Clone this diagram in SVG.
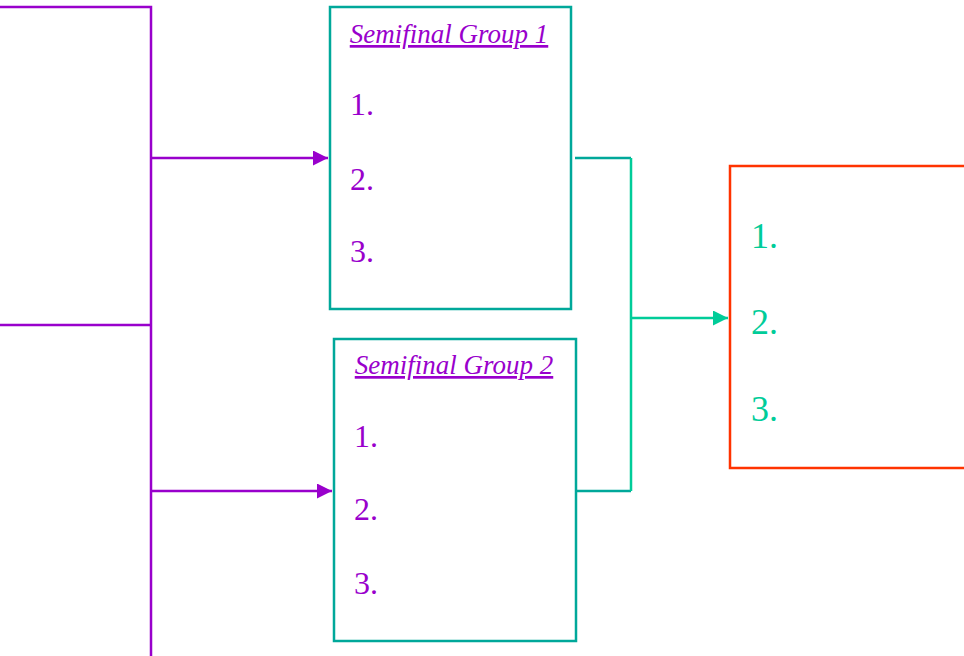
<svg xmlns="http://www.w3.org/2000/svg" width="964" height="656" viewBox="0 0 964 656">
<defs>
<style>
.pl{fill:none;stroke:#9900CC;stroke-width:2.5}
.gl{fill:none;stroke:#00CC99;stroke-width:2.5}
.tl{fill:none;stroke:#00A89A;stroke-width:2.5}
.box{fill:#fff;stroke:#00A89A;stroke-width:2.5}
.title{font-family:"Liberation Serif",serif;font-style:italic;font-size:27px;fill:#9900CC;text-decoration:underline;text-anchor:middle}
.num{font-family:"Liberation Serif",serif;font-size:32px;fill:#9900CC}
.gnum{font-family:"Liberation Serif",serif;font-size:36px;fill:#00CC99}
</style>
<marker id="ap" viewBox="0 0 10 10" refX="10" refY="5" markerWidth="6" markerHeight="6" markerUnits="strokeWidth" orient="auto"><path d="M0,0L10,5L0,10z" fill="#9900CC"/></marker>
<marker id="ag" viewBox="0 0 10 10" refX="10" refY="5" markerWidth="6" markerHeight="6" markerUnits="strokeWidth" orient="auto"><path d="M0,0L10,5L0,10z" fill="#00CC99"/></marker>
</defs>
<rect width="964" height="656" fill="#fff"/>
<g id="connectors">
<path class="pl" d="M0,7H151V656"/>
<path class="pl" d="M0,325H151"/>
<path class="pl" d="M151,158H328" marker-end="url(#ap)"/>
<path class="pl" d="M151,491H332" marker-end="url(#ap)"/>
<path class="tl" d="M575,158H631"/>
<path class="tl" d="M577,491H631"/>
<path class="gl" d="M631,158V491"/>
<path class="gl" d="M631,318H728" marker-end="url(#ag)"/>
</g>
<g id="semifinal1">
<rect class="box" x="330" y="7" width="241" height="302"/>
<text class="title" x="449" y="43">Semifinal Group 1</text>
<text class="num" x="350" y="115">1.</text>
<text class="num" x="350" y="190">2.</text>
<text class="num" x="350" y="262">3.</text>
</g>
<g id="semifinal2">
<rect class="box" x="334" y="339" width="242" height="302"/>
<text class="title" x="454" y="374">Semifinal Group 2</text>
<text class="num" x="354" y="447">1.</text>
<text class="num" x="354" y="520">2.</text>
<text class="num" x="354" y="594">3.</text>
</g>
<g id="final">
<rect x="730" y="166" width="240" height="302" fill="#fff" stroke="#FF3300" stroke-width="2.5"/>
<text class="gnum" x="751" y="248">1.</text>
<text class="gnum" x="751" y="334">2.</text>
<text class="gnum" x="751" y="421">3.</text>
</g>
</svg>
